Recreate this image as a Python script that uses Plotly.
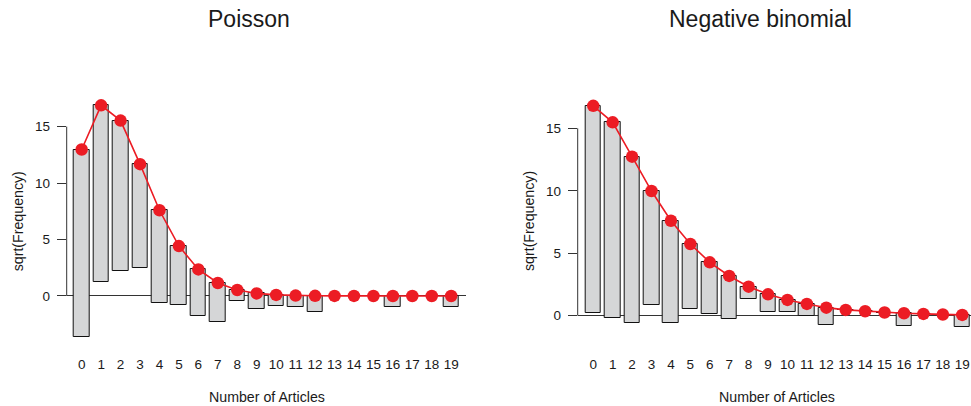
import numpy as np
import plotly.graph_objects as go

# Data: number of articles, observed counts, expected sqrt(frequency) from each fit
articles = list(range(20))
tick_labels = [str(a) for a in articles]
observed = [275, 246, 178, 84, 67, 27, 17, 12, 1, 2, 1, 1, 2, 0, 0, 0, 1, 0, 0, 1]
poisson_sqrt_expected = [12.97, 16.88, 15.53, 11.67, 7.59, 4.42, 2.35, 1.15, 0.53, 0.23,
                         0.095, 0.037, 0.014, 0.005, 0.002, 0.0, 0.0, 0.0, 0.0, 0.0]
negbin_sqrt_expected = [16.80, 15.48, 12.73, 9.98, 7.60, 5.74, 4.27, 3.18, 2.32, 1.71,
                        1.26, 0.94, 0.64, 0.46, 0.35, 0.25, 0.19, 0.14, 0.09, 0.06]
y_ticks = [0, 5, 10, 15]

W, H = 971, 406
FONT = "Liberation Sans, Arial, Helvetica, sans-serif"
TXT = "#1a1a1a"
RED = "#EC1C24"
BAR = "#D5D6D7"

sqrt_obs = np.sqrt(np.array(observed, dtype=float))

fig = go.Figure()

panels = [
    ("x", "y", poisson_sqrt_expected),
    ("x2", "y2", negbin_sqrt_expected),
]
for xa, ya, exp_s in panels:
    exp_s = np.array(exp_s)
    fig.add_trace(go.Bar(
        x=articles, y=sqrt_obs, base=exp_s - sqrt_obs, width=0.8,
        marker=dict(color=BAR, line=dict(color="#111111", width=1)),
        xaxis=xa, yaxis=ya, showlegend=False, hoverinfo="skip",
    ))
    fig.add_trace(go.Scatter(
        x=articles, y=exp_s, mode="lines+markers",
        line=dict(color=RED, width=1.6),
        marker=dict(color=RED, size=12.5, line=dict(width=0)),
        xaxis=xa, yaxis=ya, showlegend=False, cliponaxis=False,
    ))

def px_to_paper_x(px):
    return px / W

def px_to_paper_y(py):
    return (H - py) / H

ydom = [px_to_paper_y(346), px_to_paper_y(96)]
common_x = dict(
    tickmode="array", tickvals=articles, ticktext=tick_labels, ticks="",
    showgrid=False, zeroline=False, showline=False,
    tickfont=dict(family=FONT, size=13.5, color=TXT), ticklabelstandoff=8,
)
common_y = dict(
    tickmode="array", tickvals=y_ticks, ticks="outside", ticklen=9, tickwidth=1,
    tickcolor="#333333", showgrid=False, showline=False,
    zeroline=True, zerolinecolor="#333333", zerolinewidth=1,
    tickfont=dict(family=FONT, size=13.5, color=TXT), ticklabelstandoff=4,
)

fig.update_layout(
    width=W, height=H, margin=dict(l=0, r=0, t=0, b=0),
    paper_bgcolor="white", plot_bgcolor="white", bargap=0,
    font=dict(family=FONT, color=TXT),
    xaxis=dict(common_x, domain=[px_to_paper_x(66.7), px_to_paper_x(466)],
               range=[-0.77, 19.76], anchor="y"),
    yaxis=dict(common_y, domain=ydom, range=[-4.43, 17.71], anchor="x"),
    xaxis2=dict(common_x, domain=[px_to_paper_x(577.7), 1.0],
                range=[-0.80, 19.45], anchor="y2"),
    yaxis2=dict(common_y, domain=ydom, range=[-2.43, 17.59], anchor="x2"),
)

# y-axis lines spanning only the tick range (R style)
for xr, yr in [("x domain", "y"), ("x2 domain", "y2")]:
    fig.add_shape(type="line", xref=xr, yref=yr, x0=0, x1=0,
                  y0=y_ticks[0], y1=y_ticks[-1],
                  line=dict(color="#333333", width=1))

annos = [
    ("Poisson", 249, 19, 23, 0),
    ("Negative binomial", 760, 19, 23, 0),
    ("Number of Articles", 266.5, 397, 14.2, 0),
    ("Number of Articles", 777, 397, 14.2, 0),
    ("sqrt(Frequency)", 18.3, 221, 14.2, -90),
    ("sqrt(Frequency)", 529, 221, 14.2, -90),
]
for text, xpx, ypx, size, ang in annos:
    fig.add_annotation(
        text=text, xref="paper", yref="paper",
        x=px_to_paper_x(xpx), y=px_to_paper_y(ypx),
        xanchor="center", yanchor="middle", showarrow=False, textangle=ang,
        font=dict(family=FONT, size=size, color=TXT),
    )

fig.write_html(
    "out.html",
    config={"displayModeBar": False},
    post_script="document.body.style.margin='0';document.body.style.overflow='hidden';",
)
